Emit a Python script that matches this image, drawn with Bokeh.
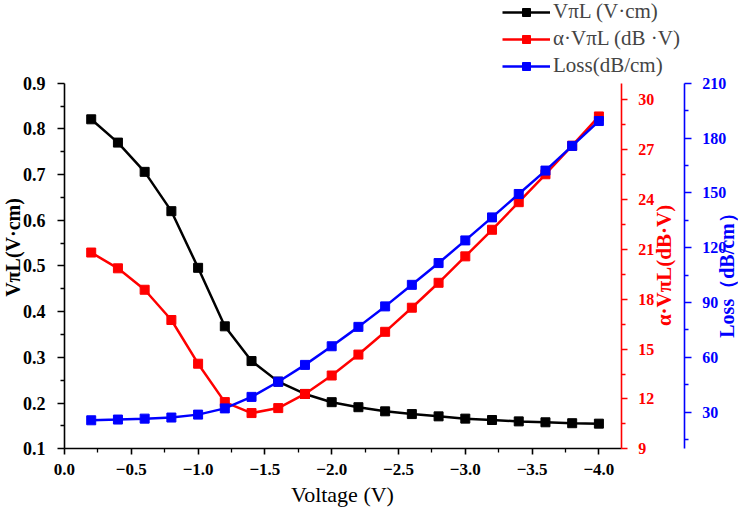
import math
from bokeh.plotting import figure
from bokeh.models import (Range1d, LinearAxis, FixedTicker, CustomJSTickFormatter,
                          Legend, LegendItem, Label)
from bokeh.embed import file_html
from bokeh.resources import INLINE

# ---- data ----
voltage = [-0.2, -0.4, -0.6, -0.8, -1.0, -1.2, -1.4, -1.6, -1.8, -2.0,
           -2.2, -2.4, -2.6, -2.8, -3.0, -3.2, -3.4, -3.6, -3.8, -4.0]
vpil = [0.821, 0.770, 0.706, 0.620, 0.496, 0.368, 0.292, 0.247, 0.220, 0.202,
        0.191, 0.182, 0.176, 0.171, 0.166, 0.163, 0.160, 0.158, 0.156, 0.155]
alpha_vpil = [20.81, 19.86, 18.57, 16.75, 14.12, 11.81, 11.15, 11.45, 12.30, 13.41,
              14.67, 16.04, 17.49, 18.99, 20.58, 22.18, 23.84, 25.52, 27.24, 29.0]
loss = [25.6, 26.0, 26.5, 27.1, 28.7, 32.1, 38.4, 46.7, 55.9, 66.1,
        76.7, 87.9, 99.7, 111.6, 124.0, 136.6, 149.4, 162.2, 175.7, 189.3]

x_ticks = [0.0, -0.5, -1.0, -1.5, -2.0, -2.5, -3.0, -3.5, -4.0]
x_minor = [-0.25, -0.75, -1.25, -1.75, -2.25, -2.75, -3.25, -3.75]
left_ticks = [0.1, 0.2, 0.3, 0.4, 0.5, 0.6, 0.7, 0.8, 0.9]
left_minor = [0.15, 0.25, 0.35, 0.45, 0.55, 0.65, 0.75, 0.85]
red_ticks = [9, 12, 15, 18, 21, 24, 27, 30]
red_minor = [10.5, 13.5, 16.5, 19.5, 22.5, 25.5, 28.5]
blue_ticks = [30, 60, 90, 120, 150, 180, 210]
blue_minor = [15, 45, 75, 105, 135, 165, 195]

labels = ["V\u03c0L (V\u00b7cm)", "\u03b1\u00b7V\u03c0L (dB \u00b7V)", "Loss(dB/cm)"]
x_title = "Voltage (V)"
left_title = "V\u03c0L(V\u00b7cm)"
red_title = "\u03b1\u00b7V\u03c0L(dB\u00b7V)"
blue_title = "Loss\uff08dB/cm\uff09"

FONT = "Liberation Serif"

# The frame covers the whole canvas; axes sit at fixed data locations inside it.
p = figure(width=738, height=507, output_backend="svg", toolbar_location=None,
           x_range=Range1d(0.4790, -5.0449), y_range=Range1d(-0.02845, 1.08096),
           min_border=0)
p.extra_y_ranges = {"red": Range1d(5.4677, 35.9766), "blue": Range1d(-22.11, 255.24)}
p.grid.visible = False
p.outline_line_color = None
p.background_fill_color = "white"
p.border_fill_color = "white"

X_RED_AXIS = -4.168
X_BLUE_AXIS = -4.639

def style_axis(ax, color, label_size, tick_major, tick_minor):
    ax.axis_line_color = color
    ax.axis_line_width = 1.6
    ax.major_tick_line_color = color
    ax.minor_tick_line_color = color
    ax.major_tick_line_width = 1.6
    ax.minor_tick_line_width = 1.3
    ax.major_tick_out = tick_major
    ax.major_tick_in = 0
    ax.minor_tick_out = tick_minor
    ax.minor_tick_in = 0
    ax.major_label_text_font = FONT
    ax.major_label_text_font_style = "bold"
    ax.major_label_text_font_size = label_size
    ax.major_label_text_color = color

xa = p.xaxis[0]
xa.ticker = FixedTicker(ticks=x_ticks, minor_ticks=x_minor)
xa.formatter = CustomJSTickFormatter(code="""
    return tick < 0 ? "\u2212" + (-tick).toFixed(1) : tick.toFixed(1);
""")
xa.fixed_location = 0.1
xa.bounds = (X_RED_AXIS, 0.0)
style_axis(xa, "black", "17px", 6, 4)
xa.major_label_standoff = 9

ya = p.yaxis[0]
ya.ticker = FixedTicker(ticks=left_ticks, minor_ticks=left_minor)
ya.formatter = CustomJSTickFormatter(code="return tick.toFixed(1);")
ya.fixed_location = 0.0
ya.bounds = (0.1, 0.9)
style_axis(ya, "black", "18px", 7, 4)
ya.major_label_standoff = 12

red_ax = LinearAxis(y_range_name="red", fixed_location=X_RED_AXIS)
red_ax.ticker = FixedTicker(ticks=red_ticks, minor_ticks=red_minor)
red_ax.bounds = (9, 31)
style_axis(red_ax, "red", "16px", 6, 4)
red_ax.major_label_standoff = 11
p.add_layout(red_ax, "right")

blue_ax = LinearAxis(y_range_name="blue", fixed_location=X_BLUE_AXIS)
blue_ax.ticker = FixedTicker(ticks=blue_ticks, minor_ticks=blue_minor)
blue_ax.bounds = (10, 210)
style_axis(blue_ax, "blue", "16px", 7, 4)
blue_ax.major_label_standoff = 11
p.add_layout(blue_ax, "right")

# axis titles
def title(text, x, y, size, color, bold=True, angle=0.0):
    p.add_layout(Label(x=x, y=y, x_units="screen", y_units="screen", text=text,
                       angle=angle, text_align="center", text_baseline="middle",
                       text_font=FONT, text_font_style="bold" if bold else "normal",
                       text_font_size=size, text_color=color))

title(x_title, 342, 13, "22px", "black", bold=False)
title(left_title, 12, 260, "20px", "black", angle=math.pi / 2)
title(red_title, 663, 242, "21px", "red", angle=math.pi / 2)
title(blue_title, 726, 237, "20px", "blue", angle=math.pi / 2)

# ---- series ----
r1l = p.line(voltage, vpil, line_color="black", line_width=2.5)
r1s = p.scatter(voltage, vpil, marker="square", size=9, fill_color="black", line_color="black")
r2l = p.line(voltage, alpha_vpil, line_color="red", line_width=2.5, y_range_name="red")
r2s = p.scatter(voltage, alpha_vpil, marker="square", size=9, fill_color="red", line_color="red",
                y_range_name="red")
r3l = p.line(voltage, loss, line_color="blue", line_width=2.5, y_range_name="blue")
r3s = p.scatter(voltage, loss, marker="square", size=9, fill_color="blue", line_color="blue",
                y_range_name="blue")

legend = Legend(items=[LegendItem(label=labels[0], renderers=[r1l, r1s]),
                       LegendItem(label=labels[1], renderers=[r2l, r2s]),
                       LegendItem(label=labels[2], renderers=[r3l, r3s])],
                location=(502, 429), padding=0, margin=0, spacing=2,
                glyph_width=48, glyph_height=20, label_height=20, label_standoff=3,
                border_line_color=None, background_fill_alpha=0,
                label_text_font=FONT, label_text_font_size="21px")
p.add_layout(legend)

open("out.html", "w").write(file_html(p, INLINE))
